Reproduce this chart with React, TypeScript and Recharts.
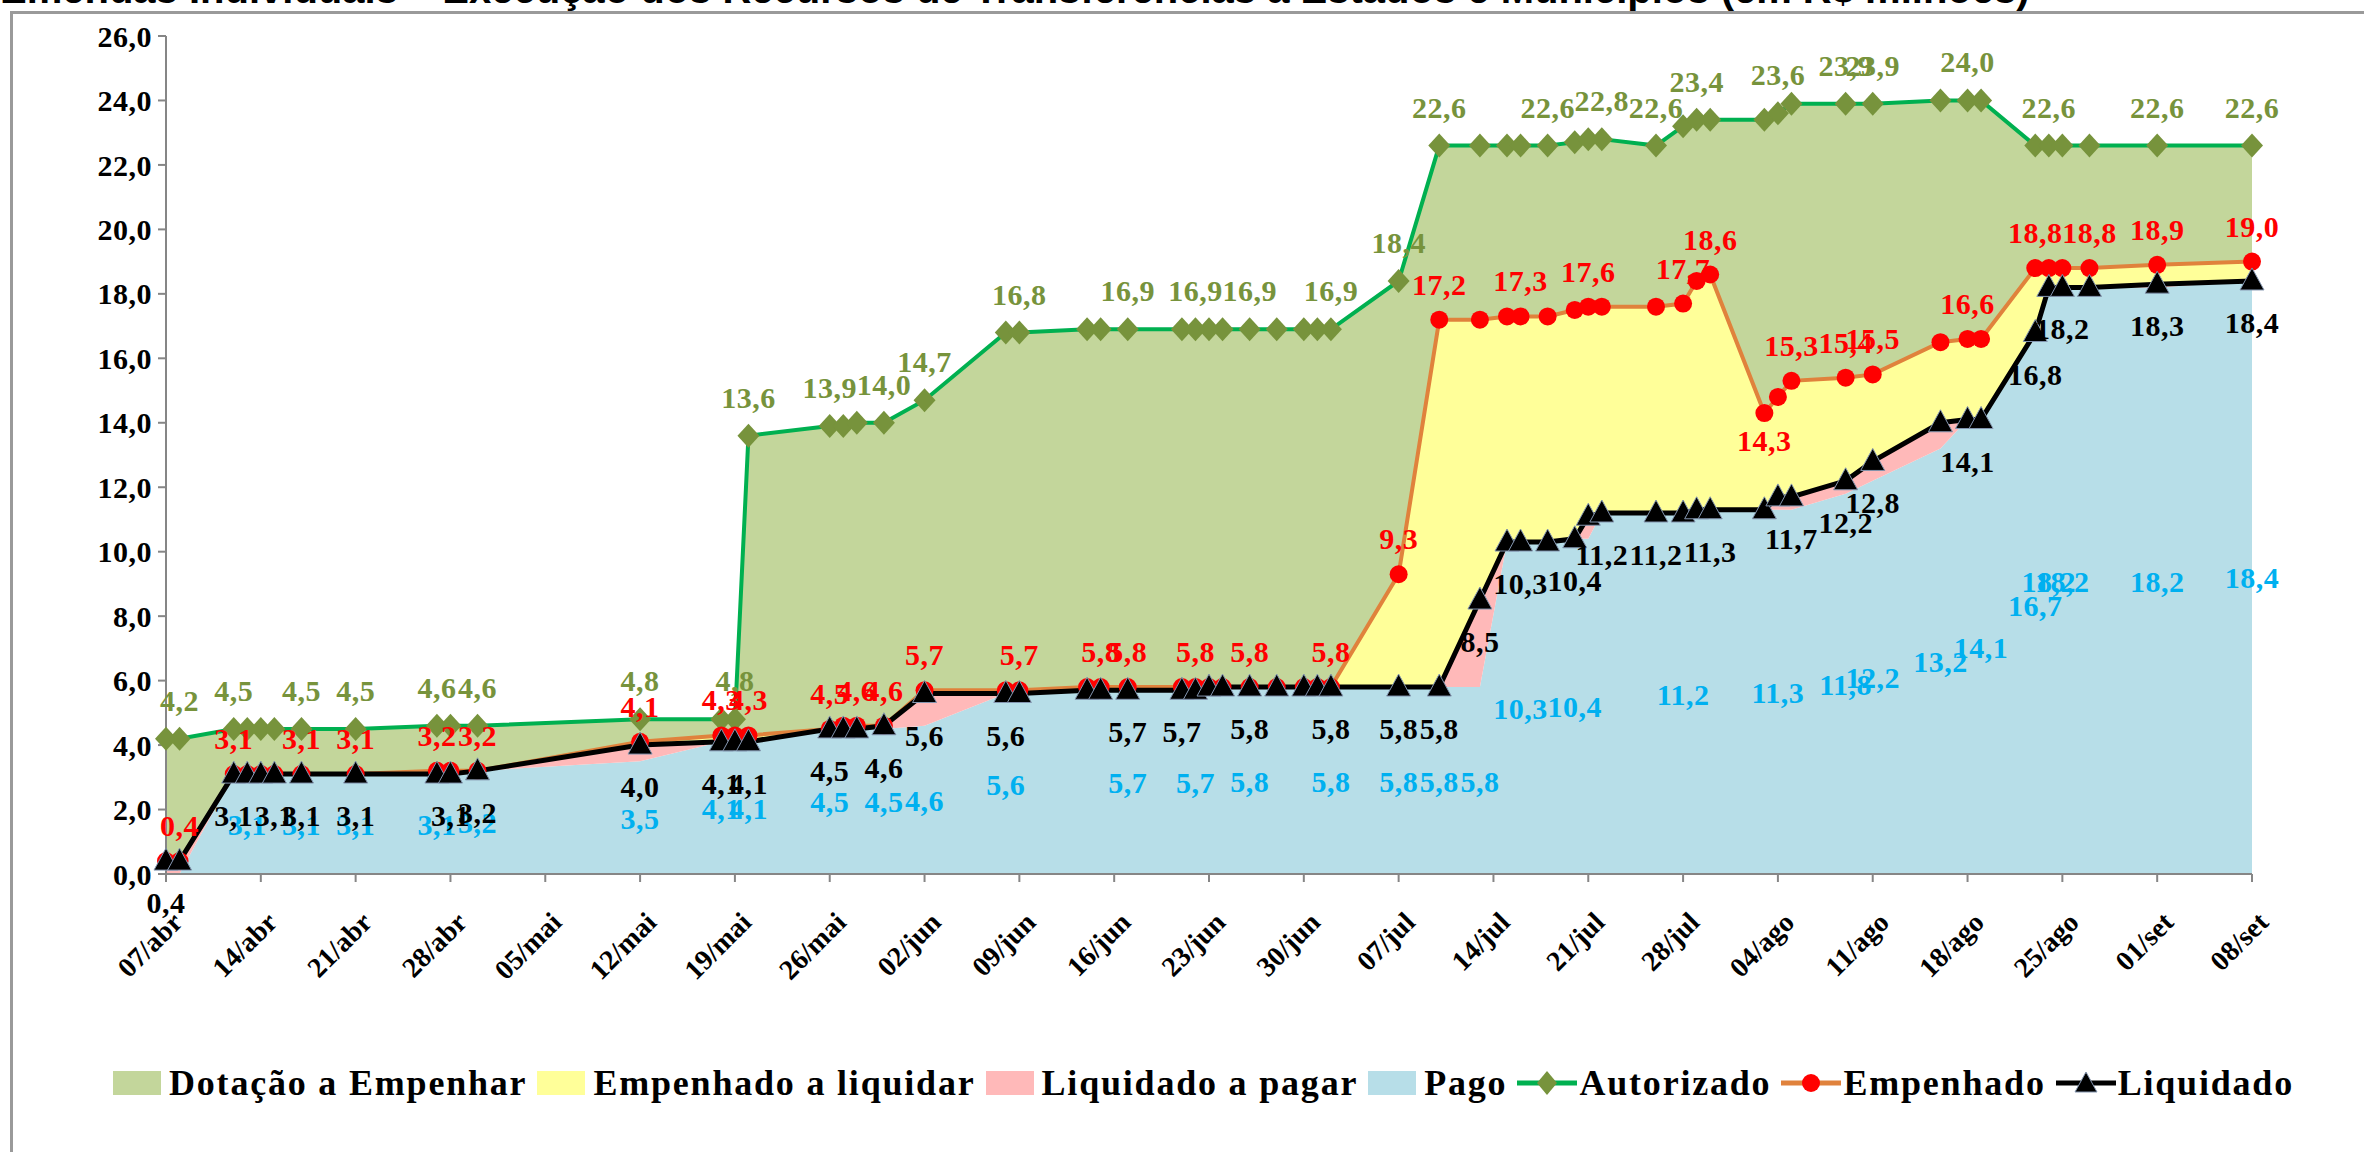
import React from 'react';
import { ComposedChart, Area, Line, XAxis, YAxis } from 'recharts';

// datas das posições (dd/mm/2014)
const datas = [
  '07/04', '08/04', '12/04', '13/04', '14/04', '15/04', '17/04', '21/04', '27/04', '28/04',
  '30/04', '12/05', '18/05', '19/05', '20/05', '26/05', '27/05', '28/05', '30/05', '02/06',
  '08/06', '09/06', '14/06', '15/06', '17/06', '21/06', '22/06', '23/06', '24/06', '26/06',
  '28/06', '30/06', '01/07', '02/07', '07/07', '10/07', '13/07', '15/07', '16/07', '18/07',
  '20/07', '21/07', '22/07', '26/07', '28/07', '29/07', '30/07', '03/08', '04/08', '05/08',
  '09/08', '11/08', '16/08', '18/08', '19/08', '23/08', '24/08', '25/08', '27/08', '01/09',
  '08/09',
];

const autorizado = [
  4.2, 4.2, 4.5, 4.5, 4.5, 4.5, 4.5, 4.5, 4.6, 4.6,
  4.6, 4.8, 4.8, 4.8, 13.6, 13.9, 13.9, 14.0, 14.0, 14.7,
  16.8, 16.8, 16.9, 16.9, 16.9, 16.9, 16.9, 16.9, 16.9, 16.9,
  16.9, 16.9, 16.9, 16.9, 18.4, 22.6, 22.6, 22.6, 22.6, 22.6,
  22.7, 22.8, 22.8, 22.6, 23.2, 23.4, 23.4, 23.4, 23.6, 23.9,
  23.9, 23.9, 24.0, 24.0, 24.0, 22.6, 22.6, 22.6, 22.6, 22.6,
  22.6,
];

const empenhado = [
  0.4, 0.4, 3.1, 3.1, 3.1, 3.1, 3.1, 3.1, 3.2, 3.2,
  3.2, 4.1, 4.3, 4.3, 4.3, 4.5, 4.6, 4.6, 4.6, 5.7,
  5.7, 5.7, 5.8, 5.8, 5.8, 5.8, 5.8, 5.8, 5.8, 5.8,
  5.8, 5.8, 5.8, 5.8, 9.3, 17.2, 17.2, 17.3, 17.3, 17.3,
  17.5, 17.6, 17.6, 17.6, 17.7, 18.4, 18.6, 14.3, 14.8, 15.3,
  15.4, 15.5, 16.5, 16.6, 16.6, 18.8, 18.8, 18.8, 18.8, 18.9,
  19.0,
];

const liquidado = [
  0.4, 0.4, 3.1, 3.1, 3.1, 3.1, 3.1, 3.1, 3.1, 3.1,
  3.2, 4.0, 4.1, 4.1, 4.1, 4.5, 4.5, 4.5, 4.6, 5.6,
  5.6, 5.6, 5.7, 5.7, 5.7, 5.7, 5.7, 5.8, 5.8, 5.8,
  5.8, 5.8, 5.8, 5.8, 5.8, 5.8, 8.5, 10.3, 10.3, 10.3,
  10.4, 11.1, 11.2, 11.2, 11.2, 11.3, 11.3, 11.3, 11.7, 11.7,
  12.2, 12.8, 14.0, 14.1, 14.1, 16.8, 18.2, 18.2, 18.2, 18.3,
  18.4,
];

const pago = [
  0.0, 0.0, 3.1, 3.1, 3.1, 3.1, 3.1, 3.1, 3.1, 3.1,
  3.2, 3.5, 4.1, 4.1, 4.1, 4.5, 4.5, 4.5, 4.5, 4.6,
  5.6, 5.6, 5.7, 5.7, 5.7, 5.7, 5.7, 5.8, 5.8, 5.8,
  5.8, 5.8, 5.8, 5.8, 5.8, 5.8, 5.8, 10.3, 10.3, 10.3,
  10.4, 10.4, 11.2, 11.2, 11.2, 11.2, 11.3, 11.3, 11.3, 11.3,
  11.8, 12.2, 13.2, 14.1, 14.1, 16.7, 18.2, 18.2, 18.2, 18.2,
  18.4,
];

const rotulosX = [
  '07/abr', '14/abr', '21/abr', '28/abr', '05/mai', '12/mai', '19/mai', '26/mai',
  '02/jun', '09/jun', '16/jun', '23/jun', '30/jun', '07/jul', '14/jul', '21/jul',
  '28/jul', '04/ago', '11/ago', '18/ago', '25/ago', '01/set', '08/set',
];
const ticksY = [0, 2, 4, 6, 8, 10, 12, 14, 16, 18, 20, 22, 24, 26];

// pontos em que o Excel mostrou o rótulo
const rotAutorizado = [
  '08/04', '12/04', '17/04', '21/04', '27/04', '30/04', '12/05', '19/05', '20/05', '26/05',
  '30/05', '02/06', '09/06', '17/06', '22/06', '26/06', '02/07', '07/07', '10/07', '18/07',
  '22/07', '26/07', '29/07', '04/08', '09/08', '11/08', '18/08', '24/08', '01/09', '08/09',
];
const rotEmpenhado = [
  '08/04', '12/04', '17/04', '21/04', '27/04', '30/04', '12/05', '18/05', '20/05', '26/05',
  '28/05', '30/05', '02/06', '09/06', '15/06', '17/06', '22/06', '26/06', '02/07', '07/07',
  '10/07', '16/07', '21/07', '28/07', '30/07', '03/08', '05/08', '09/08', '11/08', '18/08',
  '23/08', '27/08', '01/09', '08/09',
];
const rotLiquidado = [
  '07/04', '12/04', '15/04', '17/04', '21/04', '28/04', '30/04', '12/05', '18/05', '20/05',
  '26/05', '30/05', '02/06', '08/06', '17/06', '21/06', '26/06', '02/07', '07/07', '10/07',
  '13/07', '16/07', '20/07', '22/07', '26/07', '30/07', '05/08', '09/08', '11/08', '18/08',
  '23/08', '25/08', '01/09', '08/09',
];
const rotPago = [
  '13/04', '17/04', '21/04', '27/04', '30/04', '12/05', '18/05', '20/05', '26/05', '30/05',
  '02/06', '08/06', '17/06', '22/06', '26/06', '02/07', '07/07', '10/07', '13/07', '16/07',
  '20/07', '28/07', '04/08', '09/08', '11/08', '16/08', '19/08', '23/08', '24/08', '25/08',
  '01/09', '08/09',
];

const inicio = Date.UTC(2014, 3, 7);
const diaDe = (s: string) => {
  const [d, m] = s.split('/').map(Number);
  return Math.round((Date.UTC(2014, m - 1, d) - inicio) / 86400000);
};

const r1 = (v: number) => Math.round(v * 100) / 100;
const data = datas.map((d, i) => ({
  dia: diaDe(d),
  pago: pago[i],
  liqAPagar: r1(liquidado[i] - pago[i]),
  empALiquidar: r1(empenhado[i] - liquidado[i]),
  dotacao: r1(autorizado[i] - empenhado[i]),
  autorizado: autorizado[i],
  empenhado: empenhado[i],
  liquidado: liquidado[i],
}));

const W = 2364;
const H = 1000;
const M = { top: 36, right: 112, left: 66, bottom: 0 };
const XH = 126;
const BASE_Y = H - M.bottom - XH; // linha do eixo X
const serif = '"Liberation Serif", "Times New Roman", serif';
const fmt = (v: number) => v.toFixed(1).replace('.', ',');

const txt = { fontFamily: serif, fontWeight: 700, fontSize: 30, letterSpacing: 0.5 } as const;

function rotulo(lista: string[], serie: number[], cor: string, pos: 'acima' | 'abaixo' | 'meio') {
  return (p: any) => {
    const i = p.index;
    if (i == null || !lista.includes(datas[i])) return null;
    let y = p.y;
    if (pos === 'acima') {
      // mínimo local do empenhado fica embaixo
      const v = serie[i];
      const minimo = i > 0 && i < serie.length - 1 && v < serie[i - 1] && v < serie[i + 1];
      y = minimo ? p.y + 38 : p.y - 25;
    } else if (pos === 'abaixo') {
      y = p.y + 52;
    } else {
      y = (p.y + BASE_Y) / 2 + 11;
    }
    return (
      <text key={`r-${cor}-${i}`} x={p.x} y={y} textAnchor="middle" fill={cor} style={txt}>
        {fmt(serie[i])}
      </text>
    );
  };
}

const rotAut = (p: any) => {
  const i = p.index;
  if (i == null || !rotAutorizado.includes(datas[i])) return null;
  return (
    <text key={`ra-${i}`} x={p.x} y={p.y - 28} textAnchor="middle" fill="#77933C" style={txt}>
      {fmt(autorizado[i])}
    </text>
  );
};

const Losango = (p: any) => (
  <path
    key={`l-${p.index}`}
    d={`M${p.cx},${p.cy - 12} L${p.cx + 11},${p.cy} L${p.cx},${p.cy + 12} L${p.cx - 11},${p.cy} Z`}
    fill="#77933C"
  />
);
const Bola = (p: any) => <circle key={`b-${p.index}`} cx={p.cx} cy={p.cy} r={9} fill="#FF0000" />;
const Triangulo = (p: any) => (
  <path
    key={`t-${p.index}`}
    d={`M${p.cx},${p.cy - 13} L${p.cx + 12},${p.cy + 9} L${p.cx - 12},${p.cy + 9} Z`}
    fill="#000"
    stroke="#8496B0"
    strokeWidth={1}
  />
);

const XTick = ({ x, y, payload, index }: any) => (
  <g transform={`translate(${x},${y})`}>
    <text
      transform="translate(18,42) rotate(-45)"
      textAnchor="end"
      fill="#000"
      style={{ fontFamily: serif, fontWeight: 700, fontSize: 28 }}
    >
      {rotulosX[index ?? Math.round(payload.value / 7)]}
    </text>
  </g>
);

const legenda = [
  { nome: 'Dotação a Empenhar', tipo: 'area', cor: '#C3D69B' },
  { nome: 'Empenhado a liquidar', tipo: 'area', cor: '#FFFF99' },
  { nome: 'Liquidado a pagar', tipo: 'area', cor: '#FFB9B9' },
  { nome: 'Pago', tipo: 'area', cor: '#B7DEE8' },
  { nome: 'Autorizado', tipo: 'aut', cor: '#00B050' },
  { nome: 'Empenhado', tipo: 'emp', cor: '#E0823C' },
  { nome: 'Liquidado', tipo: 'liq', cor: '#000' },
];

const MarcaLegenda = ({ tipo, cor }: { tipo: string; cor: string }) => {
  if (tipo === 'area') {
    return <div style={{ width: 48, height: 24, background: cor, marginRight: 8 }} />;
  }
  return (
    <svg width={60} height={30} style={{ marginRight: 2 }}>
      <line x1={0} y1={15} x2={60} y2={15} stroke={cor} strokeWidth={5} />
      {tipo === 'aut' && <path d="M30,3 L40,15 L30,27 L20,15 Z" fill="#77933C" />}
      {tipo === 'emp' && <circle cx={30} cy={15} r={9} fill="#FF0000" />}
      {tipo === 'liq' && <path d="M30,4 L41,24 L19,24 Z" fill="#000" stroke="#8496B0" />}
    </svg>
  );
};

export default function App() {
  return (
    <div style={{ position: 'relative', width: W, height: 1152, overflow: 'hidden', background: '#fff' }}>
      <style>{'body{margin:0;overflow:hidden}'}</style>
      <div
        style={{
          position: 'absolute', top: -33, left: 0,
          fontFamily: '"Liberation Sans", Arial, sans-serif', fontWeight: 700, fontSize: 40,
          whiteSpace: 'nowrap',
        }}
      >
        Emendas Individuais – Execução dos Recursos de Transferências a Estados e Municípios (em R$ milhões)
      </div>
      <div
        style={{
          position: 'absolute', left: 10, top: 11, width: 2420, height: 1220,
          border: '3px solid #9a9a9a', boxSizing: 'border-box', background: 'transparent',
        }}
      />
      <div style={{ position: 'absolute', left: 0, top: 0 }}>
        <ComposedChart width={W} height={H} data={data} margin={M}>
          <XAxis
            dataKey="dia"
            type="number"
            domain={[0, 154]}
            ticks={rotulosX.map((_, i) => i * 7)}
            interval={0}
            height={XH}
            tick={<XTick />}
            tickSize={8}
            tickMargin={0}
            axisLine={{ stroke: '#868686', strokeWidth: 2 }}
            tickLine={{ stroke: '#868686', strokeWidth: 2 }}
          />
          <YAxis
            domain={[0, 26]}
            ticks={ticksY}
            interval={0}
            width={100}
            tickSize={8}
            tickMargin={6}
            tickFormatter={fmt}
            tick={{ fill: '#000', fontFamily: serif, fontWeight: 700, fontSize: 30, letterSpacing: 0.5 }}
            axisLine={{ stroke: '#868686', strokeWidth: 2 }}
            tickLine={{ stroke: '#868686', strokeWidth: 2 }}
          />
          <Area
            type="linear"
            dataKey="pago"
            stackId="s"
            stroke="none"
            fill="#B7DEE8"
            fillOpacity={1}
            isAnimationActive={false}
            label={rotulo(rotPago, pago, '#00B0F0', 'meio')}
          />
          <Area type="linear" dataKey="liqAPagar" stackId="s" stroke="none" fill="#FFB9B9" fillOpacity={1} isAnimationActive={false} />
          <Area type="linear" dataKey="empALiquidar" stackId="s" stroke="none" fill="#FFFF99" fillOpacity={1} isAnimationActive={false} />
          <Area type="linear" dataKey="dotacao" stackId="s" stroke="none" fill="#C3D69B" fillOpacity={1} isAnimationActive={false} />
          <Line
            type="linear"
            dataKey="autorizado"
            stroke="#00B050"
            strokeWidth={4}
            dot={Losango}
            activeDot={false}
            label={rotAut}
            isAnimationActive={false}
          />
          <Line
            type="linear"
            dataKey="empenhado"
            stroke="#E0823C"
            strokeWidth={4}
            dot={Bola}
            activeDot={false}
            label={rotulo(rotEmpenhado, empenhado, '#FF0000', 'acima')}
            isAnimationActive={false}
          />
          <Line
            type="linear"
            dataKey="liquidado"
            stroke="#000"
            strokeWidth={5}
            dot={Triangulo}
            activeDot={false}
            label={rotulo(rotLiquidado, liquidado, '#000', 'abaixo')}
            isAnimationActive={false}
          />
        </ComposedChart>
      </div>
      <div
        style={{
          position: 'absolute', top: 1062, left: 113, display: 'flex', alignItems: 'center',
          fontFamily: serif, fontWeight: 700, fontSize: 36, letterSpacing: 1.8, whiteSpace: 'nowrap',
        }}
      >
        {legenda.map((l) => (
          <div key={l.nome} style={{ display: 'flex', alignItems: 'center', marginRight: 10 }}>
            <MarcaLegenda tipo={l.tipo} cor={l.cor} />
            <span>{l.nome}</span>
          </div>
        ))}
      </div>
    </div>
  );
}
